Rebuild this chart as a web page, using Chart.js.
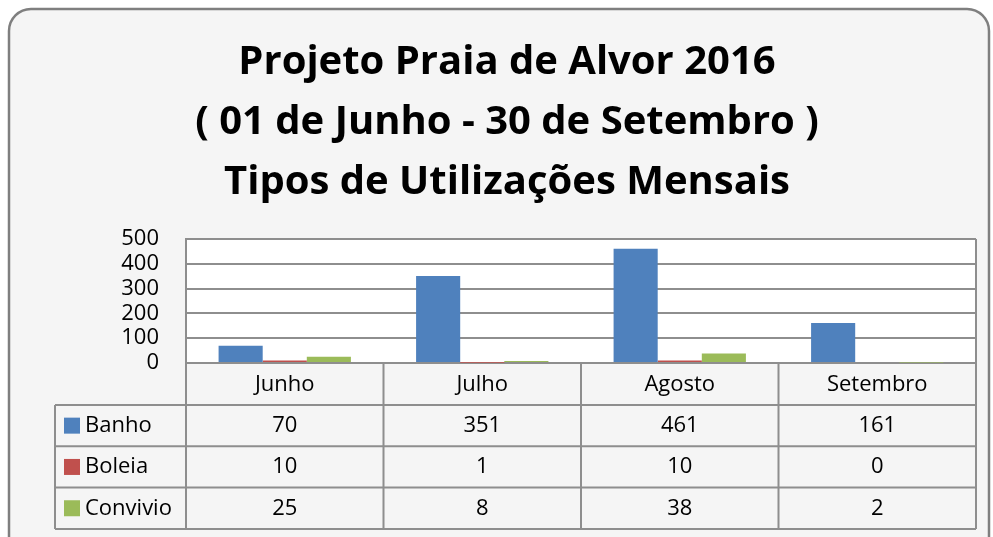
<!DOCTYPE html>
<html>
<head>
<meta charset="utf-8">
<script src="https://cdn.jsdelivr.net/npm/chart.js@4.4.1/dist/chart.umd.min.js"></script>
<style>
  html, body { margin: 0; padding: 0; background: #fff; }
  #wrap { width: 993px; height: 537px; position: relative; }
</style>
</head>
<body>
<div id="wrap"><canvas id="grafico"></canvas></div>
<script>
const meses = ['Junho', 'Julho', 'Agosto', 'Setembro'];
const banho = [70, 351, 461, 161];
const boleia = [10, 1, 10, 0];
const convivio = [25, 8, 38, 2];
const ticksY = [0, 100, 200, 300, 400, 500];
const titulo = ['Projeto Praia de Alvor 2016', '( 01 de Junho - 30 de Setembro )', 'Tipos de Utilizações Mensais'];

const cores = ['#4F81BD', '#C0504D', '#9BBB59'];
const series = [
    { nome: 'Banho', dados: banho },
    { nome: 'Boleia', dados: boleia },
    { nome: 'Convivio', dados: convivio }
];

const FONTE = '"Open Sans", "Liberation Sans", sans-serif';
const LINHA = '#8e8e8e';

// moldura, fundo, titulo e tabela de dados
const moldura = {
    id: 'moldura',
    beforeDraw(chart) {
        const c = chart.ctx;
        const a = chart.chartArea;
        c.save();
        c.fillStyle = '#fff';
        c.fillRect(0, 0, chart.width, chart.height);
        c.beginPath();
        c.roundRect(9, 9, 980, 570, 22);
        c.fillStyle = '#f5f5f5';
        c.fill();
        c.strokeStyle = '#7f7f7f';
        c.lineWidth = 2.5;
        c.stroke();

        c.fillStyle = '#fff';
        c.fillRect(a.left, a.top, a.right - a.left, a.bottom - a.top);

        c.fillStyle = '#000';
        c.font = 'bold 40px ' + FONTE;
        c.textAlign = 'center';
        c.textBaseline = 'middle';
        titulo.forEach((t, i) => c.fillText(t, 507, 63 + i * 60));
        c.restore();
    },
    afterDraw(chart) {
        const c = chart.ctx;
        const a = chart.chartArea;
        const w = (a.right - a.left) / meses.length;
        const topoTab = a.bottom + 42;  // fim da linha dos meses
        const altLinha = 41.3;
        const fimTab = topoTab + altLinha * series.length;
        const esq = 55;

        c.save();
        c.strokeStyle = LINHA;
        c.lineWidth = 2;
        c.beginPath();
        // borda direita da area
        c.moveTo(a.right, a.top); c.lineTo(a.right, a.bottom);
        // divisorias verticais
        for (let i = 0; i <= meses.length; i++) {
            const xx = a.left + i * w;
            c.moveTo(xx, a.bottom); c.lineTo(xx, fimTab);
        }
        c.moveTo(esq, topoTab); c.lineTo(esq, fimTab);
        // linhas horizontais
        for (let r = 0; r <= series.length; r++) {
            const yy = topoTab + r * altLinha;
            c.moveTo(esq, yy); c.lineTo(a.right, yy);
        }
        c.stroke();

        c.font = '22px ' + FONTE;
        c.textBaseline = 'middle';
        series.forEach((s, r) => {
            const ym = topoTab + r * altLinha + altLinha / 2;
            c.fillStyle = cores[r];
            c.fillRect(64, ym - 8, 16, 16);
            c.fillStyle = '#000';
            c.textAlign = 'left';
            c.fillText(s.nome, 85, ym);
            c.textAlign = 'center';
            s.dados.forEach((v, i) => {
                c.fillText(String(v), chart.scales.x.getPixelForValue(i), ym);
            });
        });
        c.restore();
    }
};

const ctx = document.getElementById('grafico').getContext('2d');

new Chart(ctx, {
    type: 'bar',
    data: {
        labels: meses,
        datasets: series.map((s, i) => ({
            label: s.nome,
            data: s.dados,
            backgroundColor: cores[i],
            barPercentage: 1,
            categoryPercentage: 0.67
        }))
    },
    options: {
        responsive: true,
        maintainAspectRatio: false,
        animation: false,
        layout: { padding: { top: 239, right: 17, left: 0, bottom: 0 } },
        scales: {
            x: {
                grid: { display: false, drawTicks: false },
                border: { display: false },
                ticks: { color: '#000', font: { family: FONTE, size: 22 }, padding: 9 },
                afterFit(scale) { scale.height = 174; }
            },
            y: {
                min: 0,
                max: 500,
                afterBuildTicks(scale) { scale.ticks = ticksY.map(v => ({ value: v })); },
                grid: { color: LINHA, lineWidth: 2, drawTicks: false },
                border: { color: LINHA, width: 2 },
                ticks: { color: '#000', font: { family: FONTE, size: 22, lineHeight: 1 }, padding: 27, autoSkip: false },
                afterFit(scale) { scale.width = 186; }
            }
        },
        plugins: {
            legend: { display: false },
            tooltip: { enabled: false }
        }
    },
    plugins: [moldura]
});
</script>
</body>
</html>
